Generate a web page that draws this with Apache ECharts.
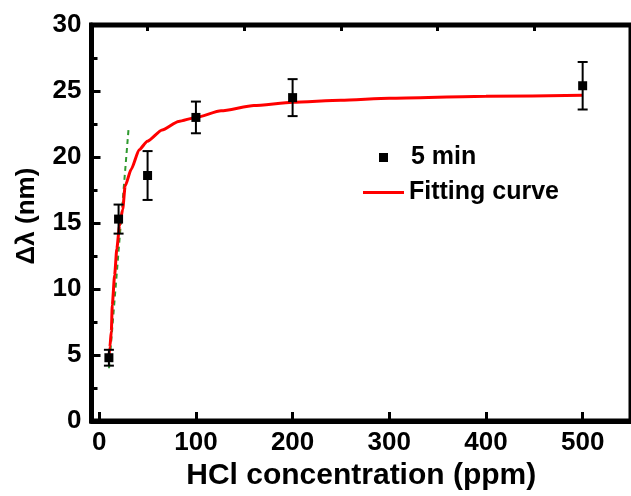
<!DOCTYPE html>
<html>
<head>
<meta charset="utf-8">
<script src="https://cdn.jsdelivr.net/npm/echarts@6/dist/echarts.min.js"></script>
<style>
  html, body { margin: 0; padding: 0; background: #fff; }
  #chart { width: 631px; height: 496px; }
</style>
</head>
<body>
<div id="chart"></div>
<script>
// Measured wavelength shift after 5 min exposure
const concentrations = [10, 20, 50, 100, 200, 500];
const shift5min = [4.8, 15.3, 18.6, 23.0, 24.5, 25.4];
const shiftError = [0.6, 1.1, 1.85, 1.2, 1.4, 1.8];

// Fitted response curve, sampled along the fit
const fitX = [9.8, 11.0, 12.5, 13.5, 15.9, 18.2, 21, 24.3, 26.8, 32.9, 41.3, 49.8, 65, 82, 100, 126, 160, 200, 250, 300, 400, 500];
const fitY = [4.67, 5.6, 6.8, 8.8, 11.05, 13.05, 14.8, 16.05, 17.8, 19.05, 20.55, 21.2, 22.05, 22.7, 23.0, 23.5, 23.9, 24.15, 24.3, 24.45, 24.6, 24.68];

// Linear segment of the low-concentration region
const linX = [10.1, 30.4];
const linY = [4.0, 22.2];

// Axis ticks
const xMajorTicks = [0, 100, 200, 300, 400, 500];
const xMinorTicks = [50, 150, 250, 350, 450];

const FONT = '"Liberation Sans", Arial, sans-serif';

const scatterData = concentrations.map((x, i) => [x, shift5min[i]]);
const errorData = concentrations.map((x, i) => [x, shift5min[i] - shiftError[i], shift5min[i] + shiftError[i]]);
const fitData = fitX.map((x, i) => [x, fitY[i]]);
const linData = linX.map((x, i) => [x, linY[i]]);

const chart = echarts.init(document.getElementById('chart'), null, { renderer: 'canvas' });

const legendText = { fontFamily: FONT, fontWeight: 'bold', fontSize: 25, color: '#000' };

chart.setOption({
  animation: false,
  backgroundColor: '#fff',
  grid: {
    left: 91.5, right: -8.5, top: 25, bottom: 72,
    show: true, borderColor: '#000', borderWidth: 5
  },
  legend: [
    {
      data: ['5 min'],
      left: 374, top: 140,
      itemWidth: 9, itemHeight: 9,
      icon: 'rect',
      itemStyle: { opacity: 1 },
      textStyle: Object.assign({ padding: [0, 0, 0, 18] }, legendText)
    },
    {
      data: ['Fitting curve'],
      left: 358, top: 175,
      itemWidth: 41, itemHeight: 3,
      icon: 'path://M0 0H40V3H0Z',
      symbolKeepAspect: false,
      textStyle: legendText
    }
  ],
  xAxis: [
    {
      type: 'value', min: -8, max: 550,
      name: 'HCl concentration (ppm)',
      nameLocation: 'middle', nameGap: 34,
      nameTextStyle: { fontFamily: FONT, fontWeight: 'bold', fontSize: 30, color: '#000' },
      axisLine: { show: true, onZero: false, lineStyle: { color: '#000', width: 5 } },
      axisTick: { show: true, inside: true, length: 9, lineStyle: { color: '#000', width: 3 }, customValues: xMajorTicks },
      axisLabel: { show: true, margin: 9, fontFamily: FONT, fontWeight: 'bold', fontSize: 26, color: '#000', customValues: xMajorTicks },
      splitLine: { show: false }
    },
    {
      type: 'value', min: -8, max: 550,
      axisLine: { show: false, onZero: false },
      axisTick: { show: true, inside: true, length: 6, lineStyle: { color: '#000', width: 3 }, customValues: xMinorTicks },
      axisLabel: { show: false },
      splitLine: { show: false }
    }
  ],
  yAxis: {
    type: 'value', min: 0, max: 30, interval: 5,
    name: 'Δλ (nm)',
    nameLocation: 'middle', nameGap: 52,
    nameTextStyle: { fontFamily: FONT, fontWeight: 'bold', fontSize: 26, color: '#000', padding: [0, 0, 0, 14] },
    axisLine: { show: true, onZero: false, lineStyle: { color: '#000', width: 5 } },
    axisTick: { show: true, inside: true, length: 9, lineStyle: { color: '#000', width: 3 } },
    minorTick: { show: true, splitNumber: 2, length: 6, lineStyle: { color: '#000', width: 3 } },
    axisLabel: { margin: 10, fontFamily: FONT, fontWeight: 'bold', fontSize: 26, color: '#000' },
    splitLine: { show: false }
  },
  series: [
    {
      name: 'linear',
      type: 'line',
      data: linData,
      symbol: 'none',
      lineStyle: { color: '#2f9a2f', width: 2, type: [5, 4] },
      z: 2
    },
    {
      name: 'Fitting curve',
      type: 'line',
      data: fitData,
      symbol: 'none',
      smooth: 0.2,
      smoothMonotone: 'x',
      color: '#ff0000',
      lineStyle: { color: '#ff0000', width: 3 },
      z: 3
    },
    {
      name: 'error',
      type: 'custom',
      data: errorData,
      z: 4,
      renderItem: function (params, api) {
        const x = api.value(0);
        const top = api.coord([x, api.value(2)]);
        const bot = api.coord([x, api.value(1)]);
        const hw = 5;
        const style = { stroke: '#000', lineWidth: 2 };
        return {
          type: 'group',
          children: [
            { type: 'line', shape: { x1: top[0], y1: top[1], x2: bot[0], y2: bot[1] }, style: style },
            { type: 'line', shape: { x1: top[0] - hw, y1: top[1], x2: top[0] + hw, y2: top[1] }, style: style },
            { type: 'line', shape: { x1: bot[0] - hw, y1: bot[1], x2: bot[0] + hw, y2: bot[1] }, style: style }
          ]
        };
      }
    },
    {
      name: '5 min',
      type: 'scatter',
      data: scatterData,
      symbol: 'rect',
      symbolSize: 9,
      itemStyle: { color: '#000', opacity: 1 },
      z: 5
    }
  ]
});
</script>
</body>
</html>
